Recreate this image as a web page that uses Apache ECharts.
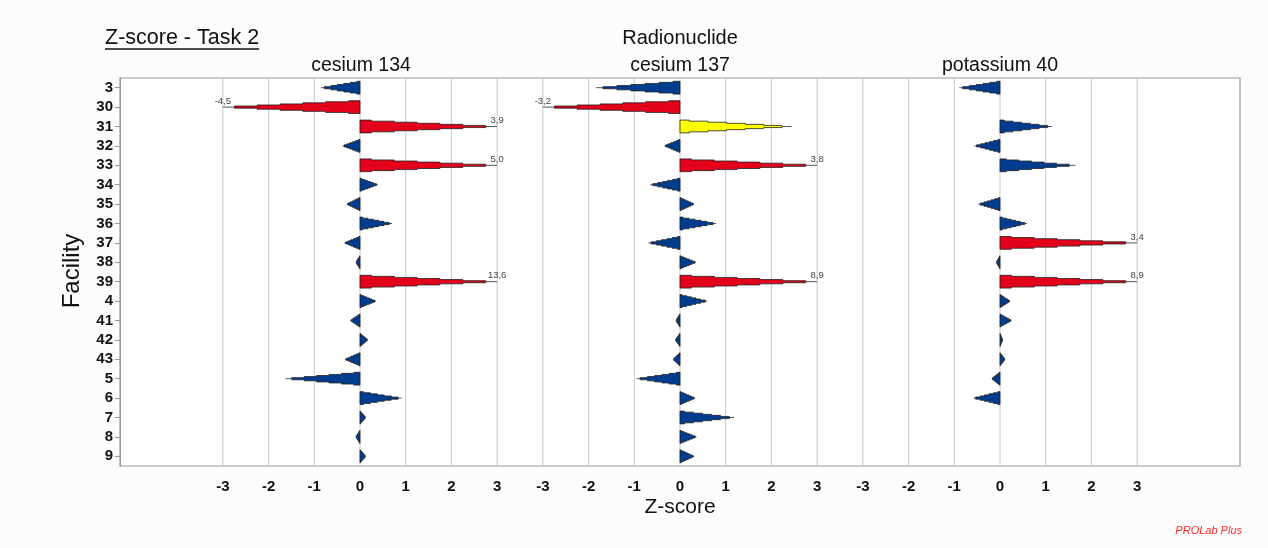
<!DOCTYPE html>
<html>
<head>
<meta charset="utf-8">
<script src="https://cdn.jsdelivr.net/npm/echarts@6/dist/echarts.min.js"></script>
<style>
html,body{margin:0;padding:0;background:#fcfcfd;}
#c{width:1268px;height:548px;}
</style>
</head>
<body>
<div id="c"></div>
<script>
// ---------------- data ----------------
var facilities = ['3','30','31','32','33','34','35','36','37','38','39','4','41','42','43','5','6','7','8','9'];
var cesium134 = [-0.85, -4.5, 3.9, -0.38, 5.0, 0.39, -0.29, 0.70, -0.34, -0.09, 13.6, 0.35, -0.21, 0.17, -0.33, -1.63, 0.91, 0.125, -0.09, 0.125];
var cesium137 = [-1.84, -3.2, 2.44, -0.34, 3.8, -0.65, 0.31, 0.79, -0.69, 0.35, 8.9, 0.60, -0.09, -0.10, -0.15, -0.95, 0.33, 1.18, 0.36, 0.31];
var potassium40 = [-0.89, null, 1.14, -0.56, 1.65, null, -0.47, 0.59, 3.4, -0.08, 8.9, 0.22, 0.25, 0.06, 0.11, -0.18, -0.58, null, null, null];
var panelTitles = ['cesium 134', 'cesium 137', 'potassium 40'];
var xTicks = [-3, -2, -1, 0, 1, 2, 3];
var zLimit = 3;

// ---------------- styles ----------------
var FONT = 'Liberation Sans, Arial, sans-serif';
var BLUE = '#003d8e', RED = '#e2001a', YELLOW = '#ffff00';
var GRID_TOP = 78, GRID_H = 388;
var panels = [
  {left: 120, width: 400, min: -5.25, max: 3.5},
  {left: 520, width: 320, min: -3.5, max: 3.5},
  {left: 840, width: 400, min: -3.5, max: 5.25}
];
var panelData = [cesium134, cesium137, potassium40];

function colorFor(v) {
  var a = Math.abs(v);
  if (a >= 3) return RED;
  if (a > 2) return YELLOW;
  return BLUE;
}
function fmt(v) { return v.toFixed(1).replace('.', ','); }

function renderShape(params, api) {
  var cat = api.value(0);
  var z = api.value(1);
  var zc = Math.max(-zLimit, Math.min(zLimit, z));
  var c0 = api.coord([0, cat]);
  var cy = c0[1];
  var H = api.size([0, 1])[1] * 0.66;
  function px(x) { return api.coord([x, cat])[0]; }
  var top = [], bot = [];
  for (var k = 0; k < 6; k++) {
    var xs = k === 0 ? 0 : zc * (2 * k - 1) / 12;
    var xe = zc * (2 * k + 1) / 12;
    var h = H * (1 - k / 6) / 2;
    top.push([px(xs), cy - h], [px(xe), cy - h]);
    bot.push([px(xs), cy + h], [px(xe), cy + h]);
  }
  var pts = top.concat(bot.reverse());
  var fill = colorFor(z);
  var children = [
    {type: 'line', shape: {x1: px(zc * 11 / 12), y1: cy, x2: px(zc), y2: cy},
     style: {stroke: '#555', lineWidth: 1}},
    {type: 'polygon', shape: {points: pts},
     style: {fill: fill, stroke: '#222', lineWidth: 0.8}}
  ];
  if (Math.abs(z) > zLimit) {
    children.push({type: 'text', style: {
      text: fmt(z), x: px(zc), y: cy - 1,
      align: 'center', verticalAlign: 'bottom', textAlign: 'center', textVerticalAlign: 'bottom',
      fill: '#444', font: '9.5px ' + FONT}});
  }
  return {type: 'group', children: children};
}

function renderGridLine(params, api) {
  var x = api.coord([api.value(0), 0])[0];
  var cs = params.coordSys;
  return {type: 'line', shape: {x1: x, y1: cs.y, x2: x, y2: cs.y + cs.height},
          style: {stroke: '#c8c8c8', lineWidth: 1}};
}

var grids = [], xAxes = [], yAxes = [], series = [];
panels.forEach(function (p, i) {
  grids.push({left: p.left, width: p.width, top: GRID_TOP, height: GRID_H, show: false});
  xAxes.push({
    type: 'value', gridIndex: i, min: p.min, max: p.max, interval: 0.25,
    splitLine: {show: false}, axisTick: {show: false},
    axisLine: {show: false, onZero: false},
    axisLabel: {
      margin: 13, fontFamily: FONT, fontWeight: 'bold', fontSize: 15, color: '#111',
      formatter: function (v) {
        return (Math.abs(v - Math.round(v)) < 1e-9 && Math.abs(v) <= 3) ? String(Math.round(v)) : '';
      }
    }
  });
  yAxes.push({
    type: 'category', gridIndex: i, data: facilities, inverse: true,
    show: i === 0, position: 'left',
    axisLine: {show: i === 0, onZero: false, lineStyle: {color: '#999'}},
    axisTick: {show: i === 0, alignWithLabel: true, interval: 0, length: 5, lineStyle: {color: '#999'}},
    axisLabel: {interval: 0, margin: 7, fontFamily: FONT, fontWeight: 'bold', fontSize: 15, color: '#111'},
    splitLine: {show: false}
  });
  series.push({
    type: 'custom', name: 'grid' + i, xAxisIndex: i, yAxisIndex: i, z: 1, silent: true,
    renderItem: renderGridLine, encode: {x: 0, y: 1},
    data: xTicks.map(function (t) { return [t, 0]; })
  });
  var d = [];
  panelData[i].forEach(function (v, idx) { if (v !== null) d.push([idx, v]); });
  series.push({
    type: 'custom', name: panelTitles[i], xAxisIndex: i, yAxisIndex: i, z: 3, silent: true,
    renderItem: renderShape, encode: {x: 1, y: 0},
    data: d
  });
});
// frame grid
grids.push({left: 120, width: 1120, top: GRID_TOP, height: GRID_H, show: true,
            backgroundColor: '#ffffff', borderColor: '#9a9a9a', borderWidth: 1.2, z: 0});
xAxes.push({type: 'value', gridIndex: 3, show: false, min: 0, max: 1});
yAxes.push({type: 'value', gridIndex: 3, show: false, min: 0, max: 1});

// title width for underline
var titleText = 'Z-score - Task 2';
var TITLE_SIZE = 21.5;
var cv = document.createElement('canvas').getContext('2d');
cv.font = TITLE_SIZE + 'px ' + FONT;
var titleW = cv.measureText(titleText).width;

function txt(text, x, y, size, opts) {
  opts = opts || {};
  return {type: 'text', x: x, y: y, rotation: opts.rotation || 0, silent: true,
    style: {text: text, font: (opts.style || '') + ' ' + size + 'px ' + FONT,
      fill: opts.color || '#111', align: opts.align || 'center', verticalAlign: 'middle',
      textAlign: opts.align || 'center', textVerticalAlign: 'middle'}};
}

var graphics = [
  txt(titleText, 105, 38, TITLE_SIZE, {align: 'left'}),
  {type: 'line', silent: true, shape: {x1: 105, y1: 49, x2: 105 + titleW, y2: 49}, style: {stroke: '#111', lineWidth: 1.6}},
  txt('Radionuclide', 680, 38, 20),
  txt('Z-score', 680, 507, 21),
  txt('Facility', 72, 271, 24, {rotation: Math.PI / 2}),
  txt('PROLab Plus', 1242, 531, 11, {align: 'right', color: '#ff2a2a', style: 'italic'})
];
[361, 680, 1000].forEach(function (cx, i) { graphics.push(txt(panelTitles[i], cx, 66, 19.5)); });

var chart = echarts.init(document.getElementById('c'), null, {renderer: 'canvas'});
chart.setOption({
  backgroundColor: '#fcfcfd',
  animation: false,
  grid: grids,
  xAxis: xAxes,
  yAxis: yAxes,
  series: series,
  graphic: {elements: graphics}
});
</script>
</body>
</html>
